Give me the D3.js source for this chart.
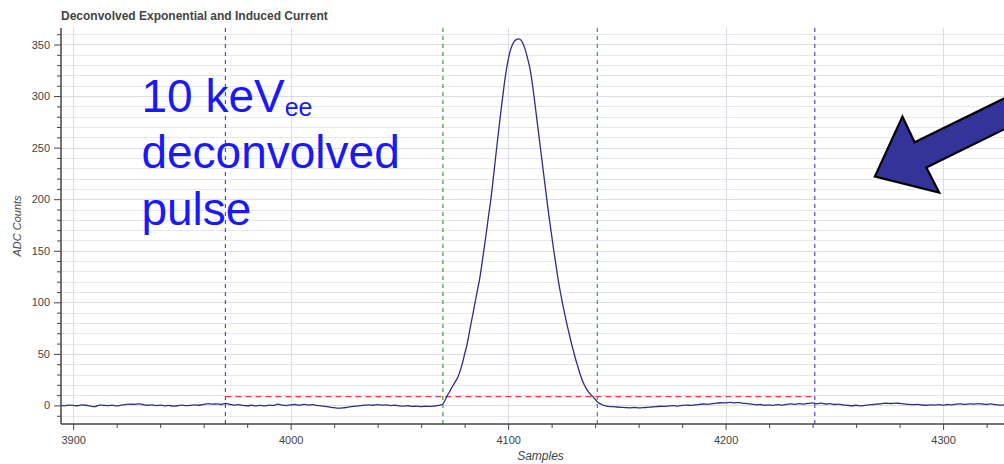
<!DOCTYPE html>
<html lang="en">
  <head>
    <meta charset="utf-8" />
    <style type="text/css">
      body {
        margin: 0;
        background: #fff;
      }
      text {
        font-family: "Liberation Sans", Arial, Helvetica, sans-serif;
      }
      .tick-label {
        font-size: 11px;
        fill: #444;
      }
    </style>
  </head>
  <body>
    <svg width="1004" height="464"></svg>

    <script src="https://d3js.org/d3.v7.min.js" type="text/javascript"></script>

    <script type="text/javascript">
      // ADC counts, baseline before the pulse: samples 3894..4066, every 2 samples
      var preStart = 3894;
      var preValues = [
        0.2, -0.4, 0.3, 0.1, -0.3, 0.5, 0.2, -0.6, -1.2, 0.4, 0.1, -0.2, 0.3,
        -0.5, 0.2, 0.8, 1.3, 1.0, 1.6, 0.9, 0.2, 0.5, -0.1, 0.3, -0.4, 0.0,
        -0.6, -0.3, 0.4, -0.2, 0.1, 0.6, 0.2, 1.0, 1.8, 1.2, 1.6, 0.9, 2.0, 1.1,
        0.4, 0.8, 0.0, -0.3, 0.2, -0.4, 0.1, -0.5, 0.3, 0.0, 1.2, 0.3, -0.2,
        0.6, 0.9, 0.2, 1.0, 0.4, 0.8, 0.1, -0.5, -1.0, -1.6, -2.2, -2.6, -2.4,
        -1.8, -1.2, -0.6, -0.2, 0.3, 0.6, 0.2, 0.8, 0.3, 0.5, -0.1, 0.2, -0.4,
        -0.6, -0.3, -0.9, -0.7, -1.1, -0.8, -1.0, -0.6,
      ];
      // the pulse itself: samples 4068..4146, every sample
      var pulseStart = 4068;
      var pulseValues = [
        0, 0.5, 1.5, 5, 9.5, 13, 17, 20.5, 24, 28, 34, 41, 50, 58, 69, 80, 91,
        102, 113, 124, 138, 153, 168, 184, 199, 217, 236, 255, 273, 291, 308,
        323, 335, 344, 350, 353.5, 355, 355.5, 354, 350, 344, 336, 327, 314, 298,
        281, 264, 247, 230, 213, 196, 180, 165, 150, 136, 122, 110, 99, 89, 79,
        70, 61, 53, 45, 38, 31, 25, 20, 16, 13, 10.5, 8.5, 6, 3.5, 2, 1, 0, -0.5,
        -1,
      ];
      // baseline after the pulse: samples 4148..4328, every 2 samples
      var postStart = 4148;
      var postValues = [
        -1.2, -1.5, -1.8, -2.1, -2.3, -2.0, -2.4, -2.2, -1.8, -1.5, -1.2, -0.8,
        -1.0, -0.5, -0.2, -0.6, 0.1, 0.4, 0.0, 0.6, 1.0, 1.4, 1.2, 1.8, 2.3,
        2.6, 2.4, 2.9, 2.5, 2.8, 2.1, 1.8, 1.2, 0.6, 0.9, 0.2, 0.5, 0.1, 0.8,
        0.4, 1.0, 1.5, 1.1, 1.8, 1.3, 2.0, 2.4, 1.6, 2.2, 1.4, 1.8, 0.9, 1.2,
        0.5, 0.1, -0.3, 0.2, -0.4, 0.1, 0.6, 0.9, 1.4, 1.8, 2.1, 1.9, 2.3, 2.0,
        1.6, 1.1, 0.7, 1.0, 0.5, 0.2, 0.6, 0.3, 0.8, 0.4, 0.9, 0.6, 1.2, 1.5,
        1.1, 1.6, 1.3, 1.8, 1.4, 1.0, 1.5, 0.8, 0.4, 0.6,
      ];

      var xTicks = [3900, 4000, 4100, 4200, 4300];
      var yTicks = [0, 50, 100, 150, 200, 250, 300, 350];
      var windowLines = [3970, 4241]; // blue
      var pulseLines = [4070, 4141]; // green
      var threshold = { value: 8.5, from: 3970, to: 4241 };

      // annotation arrow outline, in data units (tip first)
      var arrowPoints = [
        [4268.6, 221.9],
        [4281.3, 280.1],
        [4286.9, 255.3],
        [4340, 310],
        [4340, 280.1],
        [4292.3, 230.8],
        [4298.2, 206.4],
      ];

      var svg = d3.select("svg"),
        plotLeft = 61,
        plotRight = 1004,
        plotTop = 28,
        plotBottom = 424;

      var x = d3.scaleLinear().domain([3894.4, 4328]).range([plotLeft, plotRight]);
      var y = d3.scaleLinear().domain([-18, 366]).range([plotBottom, plotTop]);

      var series = [];
      preValues.forEach((v, i) => series.push([preStart + i * 2, v]));
      pulseValues.forEach((v, i) => series.push([pulseStart + i, v]));
      postValues.forEach((v, i) => series.push([postStart + i * 2, v]));

      svg
        .append("defs")
        .append("clipPath")
        .attr("id", "plot-clip")
        .append("rect")
        .attr("x", plotLeft)
        .attr("y", plotTop)
        .attr("width", plotRight - plotLeft)
        .attr("height", plotBottom - plotTop);

      // grid
      var yMinor = d3.range(-10, 361, 10);
      svg
        .append("g")
        .selectAll("line")
        .data(yMinor)
        .enter()
        .append("line")
        .attr("x1", plotLeft)
        .attr("x2", plotRight)
        .attr("y1", (d) => Math.round(y(d)) + 0.5)
        .attr("y2", (d) => Math.round(y(d)) + 0.5)
        .attr("stroke", (d) => (d % 50 === 0 ? "#dcdce6" : "#e7e7ef"))
        .attr("stroke-width", 1);

      svg
        .append("g")
        .selectAll("line")
        .data(xTicks)
        .enter()
        .append("line")
        .attr("x1", (d) => Math.round(x(d)) + 0.5)
        .attr("x2", (d) => Math.round(x(d)) + 0.5)
        .attr("y1", plotTop)
        .attr("y2", plotBottom)
        .attr("stroke", "#dcdce4")
        .attr("stroke-width", 1);

      // marker lines
      var markers = svg.append("g").attr("clip-path", "url(#plot-clip)");
      markers
        .selectAll(".blue")
        .data(windowLines)
        .enter()
        .append("line")
        .attr("x1", (d) => x(d))
        .attr("x2", (d) => x(d))
        .attr("y1", plotTop)
        .attr("y2", plotBottom)
        .attr("stroke", "#4a4ad0")
        .attr("stroke-width", 1.2)
        .attr("stroke-dasharray", "4,4");

      markers
        .selectAll(".green")
        .data(pulseLines)
        .enter()
        .append("line")
        .attr("x1", (d) => x(d))
        .attr("x2", (d) => x(d))
        .attr("y1", plotTop)
        .attr("y2", plotBottom)
        .attr("stroke", "#3a9a3a")
        .attr("stroke-width", 1.2)
        .attr("stroke-dasharray", "4,4");

      markers
        .append("line")
        .attr("x1", x(threshold.from))
        .attr("x2", x(threshold.to))
        .attr("y1", y(threshold.value))
        .attr("y2", y(threshold.value))
        .attr("stroke", "#e0403c")
        .attr("stroke-width", 1.2)
        .attr("stroke-dasharray", "6,4");

      // waveform
      var line = d3
        .line()
        .curve(d3.curveMonotoneX)
        .x((d) => x(d[0]))
        .y((d) => y(d[1]));

      svg
        .append("path")
        .datum(series)
        .attr("clip-path", "url(#plot-clip)")
        .attr("d", line)
        .attr("fill", "none")
        .attr("stroke", "#2e2e82")
        .attr("stroke-width", 1.3);

      // axes
      var axisColor = "#444";
      var yAxis = d3
        .axisLeft(y)
        .tickValues(yTicks)
        .tickSize(7)
        .tickPadding(4)
        .tickFormat(d3.format("d"));
      var gy = svg
        .append("g")
        .attr("transform", "translate(" + plotLeft + ",0)")
        .call(yAxis);
      gy.selectAll(".tick line").attr("stroke", axisColor);
      gy.selectAll(".tick text")
        .attr("class", "tick-label")
        .attr("font-family", null)
        .attr("font-size", null);
      gy.select(".domain").remove();
      gy.attr("font-family", null).attr("font-size", null);

      var yMinorAxis = d3
        .axisLeft(y)
        .tickValues(yMinor.filter((d) => d % 50 !== 0))
        .tickSize(4)
        .tickFormat("");
      var gym = svg
        .append("g")
        .attr("transform", "translate(" + plotLeft + ",0)")
        .call(yMinorAxis);
      gym.selectAll(".tick line").attr("stroke", axisColor);
      gym.select(".domain").remove();

      var xAxis = d3
        .axisBottom(x)
        .tickValues(xTicks)
        .tickSize(6)
        .tickPadding(6)
        .tickFormat(d3.format("d"));
      var gx = svg
        .append("g")
        .attr("transform", "translate(0," + plotBottom + ")")
        .call(xAxis);
      gx.selectAll(".tick line").attr("stroke", axisColor);
      gx.selectAll(".tick text")
        .attr("class", "tick-label")
        .attr("font-family", null)
        .attr("font-size", null);
      gx.select(".domain").remove();
      gx.attr("font-family", null).attr("font-size", null);

      var xMinorAxis = d3
        .axisBottom(x)
        .tickValues(d3.range(3900, 4328, 20).filter((d) => d % 100 !== 0))
        .tickSize(4)
        .tickFormat("");
      var gxm = svg
        .append("g")
        .attr("transform", "translate(0," + plotBottom + ")")
        .call(xMinorAxis);
      gxm.selectAll(".tick line").attr("stroke", axisColor);
      gxm.select(".domain").remove();

      svg
        .append("line")
        .attr("x1", plotLeft)
        .attr("x2", plotLeft)
        .attr("y1", plotTop)
        .attr("y2", plotBottom)
        .attr("stroke", axisColor)
        .attr("stroke-width", 1.5);
      svg
        .append("line")
        .attr("x1", plotLeft)
        .attr("x2", plotRight)
        .attr("y1", plotBottom)
        .attr("y2", plotBottom)
        .attr("stroke", axisColor)
        .attr("stroke-width", 1.5);

      // titles
      svg
        .append("text")
        .attr("x", 61)
        .attr("y", 20)
        .attr("font-size", 12)
        .attr("font-weight", "bold")
        .attr("fill", "#444")
        .text("Deconvolved Exponential and Induced Current");

      svg
        .append("text")
        .attr("x", (plotLeft + plotRight) / 2 + 8)
        .attr("y", 460)
        .attr("text-anchor", "middle")
        .attr("font-size", 12)
        .attr("font-style", "italic")
        .attr("fill", "#444")
        .text("Samples");

      svg
        .append("text")
        .attr("transform", "translate(21," + (plotTop + plotBottom) / 2 + ") rotate(-90)")
        .attr("text-anchor", "middle")
        .attr("font-size", 11)
        .attr("font-style", "italic")
        .attr("fill", "#444")
        .text("ADC Counts");

      // annotation
      var noteX = x(3931.4),
        noteY = y(285);
      var note = svg
        .append("text")
        .attr("x", noteX)
        .attr("y", noteY)
        .attr("font-size", 46)
        .attr("fill", "#1a1af5");
      note.append("tspan").text("10 keV");
      note
        .append("tspan")
        .attr("font-size", 25)
        .attr("dy", 4)
        .text("ee");
      note
        .append("tspan")
        .attr("x", noteX)
        .attr("y", noteY + 56.5)
        .text("deconvolved");
      note
        .append("tspan")
        .attr("x", noteX)
        .attr("y", noteY + 113)
        .text("pulse");

      svg
        .append("polygon")
        .attr("points", arrowPoints.map((p) => x(p[0]) + "," + y(p[1])).join(" "))
        .attr("fill", "#333399")
        .attr("stroke", "#000")
        .attr("stroke-width", 2.2)
        .attr("stroke-linejoin", "miter");
    </script>
  </body>
</html>
